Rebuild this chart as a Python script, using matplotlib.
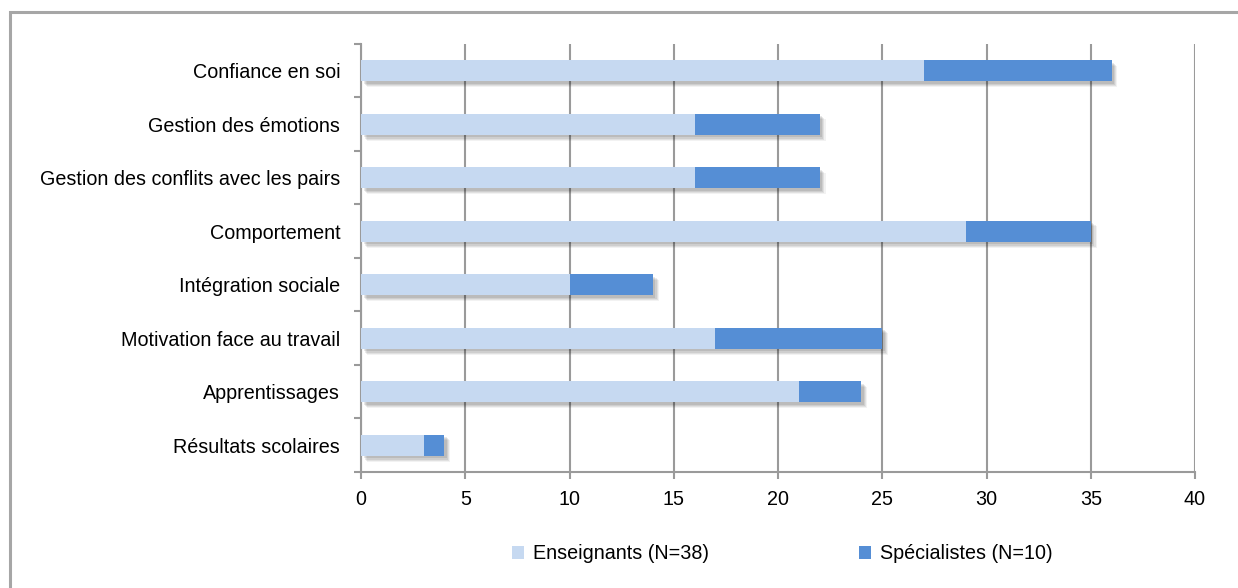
import matplotlib
matplotlib.use("Agg")
import matplotlib.pyplot as plt
import matplotlib.patheffects as pe
from matplotlib.patches import Rectangle

plt.rcParams["font.family"] = ["Liberation Sans", "DejaVu Sans"]

categories = ["Confiance en soi", "Gestion des émotions", "Gestion des conflits avec les pairs",
              "Comportement", "Intégration sociale", "Motivation face au travail",
              "Apprentissages", "Résultats scolaires"]
enseignants = [27, 16, 16, 29, 10, 17, 21, 3]
specialistes = [9, 6, 6, 6, 4, 8, 3, 1]
xticks = [0, 5, 10, 15, 20, 25, 30, 35, 40]

LIGHT = "#C6D9F1"
DARK = "#558ED5"
GRID = "#9a9a9a"

fig = plt.figure(figsize=(12.38, 5.88), dpi=100)
ax = fig.add_axes([0.2916, 0.1973, 0.6737, 0.7279])

# soft drop shadow: a few offset copies with low alpha
shadow = [pe.SimplePatchShadow(offset=(d, -d), shadow_rgbFace="black", alpha=a)
          for d, a in [(4.2, 0.05), (3.4, 0.07), (2.6, 0.08), (1.8, 0.09)]] + [pe.Normal()]

y = list(range(len(categories)))
h = 0.4
ax.barh(y, enseignants, height=h, color=LIGHT, zorder=3, path_effects=shadow,
        label="Enseignants (N=38)")
ax.barh(y, specialistes, left=enseignants, height=h, color=DARK, zorder=3, path_effects=shadow,
        label="Spécialistes (N=10)")

ax.set_ylim(len(categories) - 0.5, -0.5)
# ticks between categories, labels centred on the bars
ax.set_yticks([i - 0.5 for i in range(len(categories) + 1)], minor=False)
ax.set_yticklabels([])
ax.set_yticks(y, minor=True)
ax.set_yticklabels(categories, minor=True, fontsize=14.2)
ax.tick_params(axis="y", which="minor", length=0, pad=15)
ax.tick_params(axis="y", which="major", length=5, width=1.5, color=GRID)

ax.set_xlim(0, 40)
ax.set_xticks(xticks)
ax.tick_params(axis="x", length=5, width=1.5, color=GRID, labelsize=14.2, pad=8)
ax.grid(axis="x", color=GRID, linewidth=1.5, zorder=0)
ax.set_axisbelow(True)

for s in ["top", "right"]:
    ax.spines[s].set_visible(False)
for s in ["left", "bottom"]:
    ax.spines[s].set_color(GRID)
    ax.spines[s].set_linewidth(1.5)

leg = fig.legend(loc="center", bbox_to_anchor=(0.632, 0.058), ncol=2, frameon=False,
                 fontsize=14.2, handlelength=0.6, handleheight=0.6, handletextpad=0.45,
                 columnspacing=7.6)
for hnd in leg.legend_handles:
    hnd.set_path_effects([])

fig.patches.append(Rectangle((10 / 1238, -0.1), 1.2, 1 - 12 / 588 + 0.1,
                             transform=fig.transFigure, fill=False,
                             edgecolor="#a6a6a6", linewidth=2.2))

fig.savefig("out.png", dpi=100)
